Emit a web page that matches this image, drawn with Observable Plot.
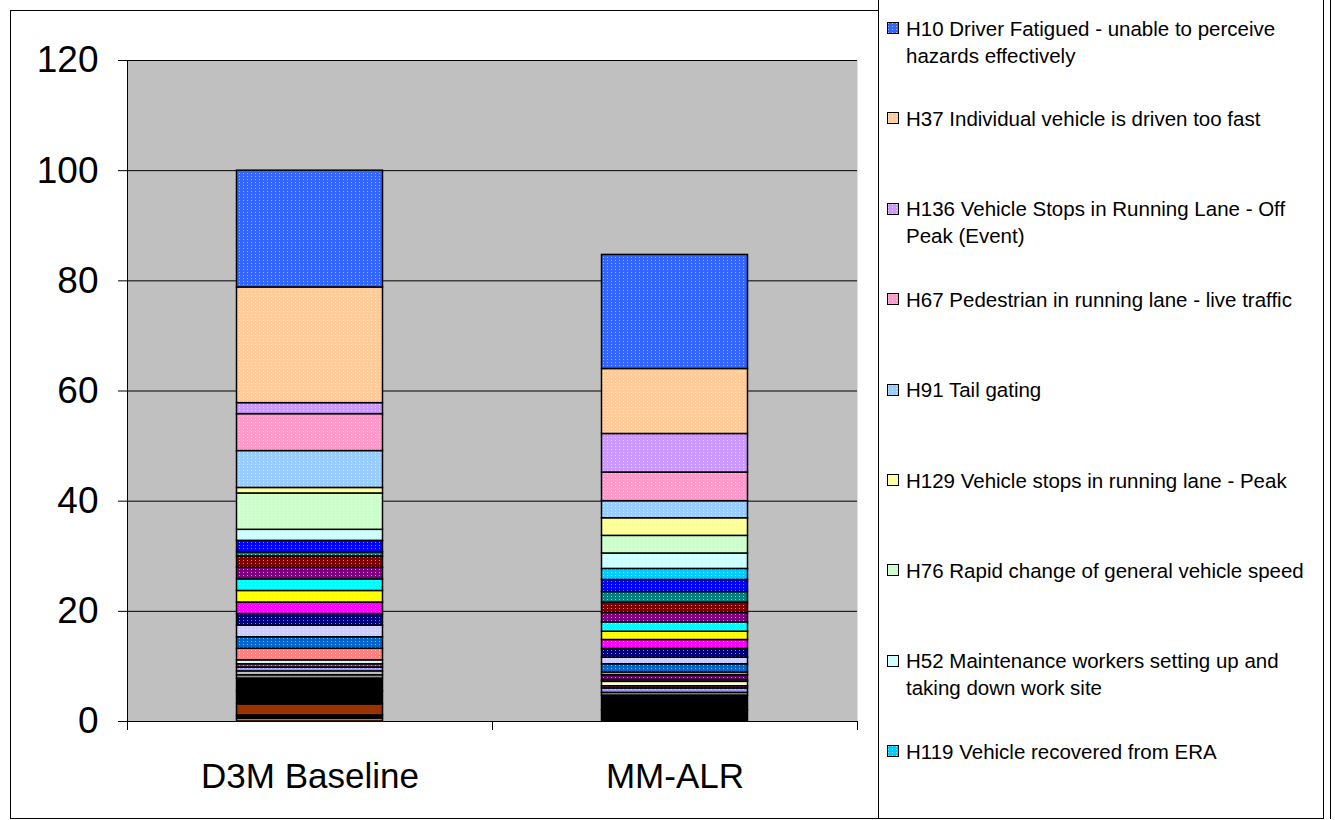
<!DOCTYPE html>
<html>
<head>
<meta charset="utf-8">
<script src="https://cdn.jsdelivr.net/npm/d3@7"></script>
<script src="https://cdn.jsdelivr.net/npm/@observablehq/plot@0.6"></script>
<style>
html,body{margin:0;padding:0;background:#fff;}
body{width:1335px;height:820px;position:relative;overflow:hidden;font-family:"Liberation Sans",Arial,sans-serif;color:#000;}
#chartFrame{position:absolute;left:10px;top:10px;width:869px;height:809px;box-sizing:border-box;border:1px solid #000;}
#plot{position:absolute;left:10px;top:10px;}
#legendBox{position:absolute;left:878px;top:-1px;width:446px;height:820px;box-sizing:border-box;border:1px solid #000;}
#outerRight{position:absolute;left:1330px;top:0;width:1px;height:819px;background:#000;}
.swatch{position:absolute;left:887px;width:12px;height:12px;}
.ltext{position:absolute;left:906px;font-size:20.5px;line-height:27px;white-space:pre;}
</style>
</head>
<body>
<div id="chartFrame"></div>
<div id="legendBox"></div>
<div id="outerRight"></div>
<div id="plot"></div>
<div id="legend"></div>
<script>
// ---- data ----
const categories = ["D3M Baseline", "MM-ALR"];
const yTicks = [0, 20, 40, 60, 80, 100, 120];

// series, bottom of stack first
const seriesNames = [
  "S1","S2","S3","S4","S5","S6","S7","S8","S9","S10","S11","S12",
  "S13","S14","S15","S16","S17","S18","S19","S20","S21","S22","S23",
  "H119","H52","H76","H129","H91","H67","H136","H37","H10"
];
const d3mBaseline = [
  0.5, 0.6, 2.0, 2.4, 2.3, 0.6, 0.7, 0.7, 0.6, 0.0, 0.7, 0.0,
  2.1, 2.1, 2.1, 2.1, 2.1, 2.1, 2.1, 2.1, 2.1, 0.7, 2.1,
  0.0, 2.0, 6.6, 1.0, 6.7, 6.7, 2.0, 21.0, 21.2
];
const mmAlr = [
  0.0, 0.0, 0.0, 2.0, 2.7, 0.5, 0.0, 0.8, 0.4, 0.8, 0.3, 0.9,
  0.5, 1.5, 1.2, 1.6, 1.6, 1.5, 1.7, 1.7, 1.9, 1.9, 2.2,
  2.0, 2.8, 3.2, 3.2, 3.1, 5.2, 7.0, 11.8, 20.7
];

// legend (top of stack first)
const legendSeries = ["H10","H37","H136","H67","H91","H129","H76","H52","H119"];
const legendLabels = [
  "H10 Driver Fatigued - unable to perceive\nhazards effectively",
  "H37 Individual vehicle is driven too fast",
  "H136 Vehicle Stops in Running Lane - Off\nPeak (Event)",
  "H67 Pedestrian in running lane - live traffic",
  "H91 Tail gating",
  "H129 Vehicle stops in running lane - Peak",
  "H76 Rapid change of general vehicle speed",
  "H52 Maintenance workers setting up and\ntaking down work site",
  "H119 Vehicle recovered from ERA"
];

// ---- styles ----
const palette = [
  "#FF6600","#000000","#993300","#000000","#000000","#969696","#C0C0C0","#9999FF","#993366","#FFFFCC","#CCFFFF","#660066",
  "#FF8080","#0066CC","#CCCCFF","#000080","#FF00FF","#FFFF00","#00FFFF","#800080","#800000","#008080","#0000FF",
  "#00CCFF","#CCFFFF","#CCFFCC","#FFFF99","#99CCFF","#FF99CC","#CC99FF","#FFCC99","#3366FF"
];
const solidCount = 5; // bottom dark segments drawn solid

// pattern defs (Excel-like dotted fills)
const defs = d3.select("body").append("svg")
  .attr("width", 0).attr("height", 0)
  .style("position", "absolute").style("left", "0").style("top", "0")
  .append("defs");
palette.forEach((col, i) => {
  const p = defs.append("pattern").attr("id", `pat${i}`)
    .attr("patternUnits", "userSpaceOnUse").attr("width", 4).attr("height", 3);
  p.append("rect").attr("width", 4).attr("height", 3).attr("fill", col);
  if (i >= solidCount) {
    p.append("rect").attr("x", 1).attr("y", 1).attr("width", 1).attr("height", 1)
      .attr("fill", "#fff").attr("fill-opacity", 0.55);
  }
});

// ---- table ----
const values = [d3mBaseline, mmAlr];
const rows = [];
seriesNames.forEach((s, i) => {
  categories.forEach((c, j) => {
    const v = values[j][i];
    if (v > 0) rows.push({category: c, series: s, value: v});
  });
});

const font = '"Liberation Sans", Arial, sans-serif';
const chart = Plot.plot({
  width: 868,
  height: 808,
  marginLeft: 117,
  marginRight: 21,
  marginTop: 50,
  marginBottom: 97,
  style: {fontFamily: font, background: "transparent", color: "#000", overflow: "visible"},
  x: {domain: categories, padding: 0, label: null},
  y: {domain: [0, 120], label: null},
  color: {domain: seriesNames, range: seriesNames.map((s, i) => `url(#pat${i})`)},
  marks: [
    Plot.frame({fill: "#C0C0C0", stroke: null}),
    Plot.gridY(yTicks, {stroke: "#000", strokeOpacity: 1, strokeWidth: 1}),
    Plot.barY(rows, {
      x: "category", y: "value", fill: "series",
      stroke: "#000", strokeWidth: 1.5,
      insetLeft: 109.5, insetRight: 109.5
    }),
    Plot.frame({anchor: "left", stroke: "#000"}),
    Plot.frame({anchor: "bottom", stroke: "#000"}),
    Plot.axisY(yTicks, {tickSize: 9, tickPadding: 20, fontSize: 37, label: null, stroke: "#000"}),
    Plot.axisX({tickSize: 0, tickPadding: 42, fontSize: 35, label: null})
  ]
});
document.getElementById("plot").appendChild(chart);

// category boundary ticks from the x scale
const xs = chart.scale("x");
const ys = chart.scale("y");
const y0 = ys.apply(0);
const bounds = [];
categories.forEach((c, i) => {
  bounds.push(xs.apply(c));
  if (i === categories.length - 1) bounds.push(xs.apply(c) + xs.bandwidth);
});
const svgSel = d3.select(chart);
bounds.forEach(bx => {
  svgSel.append("line")
    .attr("x1", Math.round(bx) + 0.5).attr("x2", Math.round(bx) + 0.5)
    .attr("y1", y0).attr("y2", y0 + 9)
    .attr("stroke", "#000");
});

// ---- legend ----
const legend = d3.select("#legend");
const firstCenter = 28, step = 90.4;
legendSeries.forEach((s, k) => {
  const idx = seriesNames.indexOf(s);
  const cy = firstCenter + k * step;
  const sw = legend.append("svg").attr("class", "swatch")
    .style("top", (cy - 6) + "px")
    .attr("width", 12).attr("height", 12);
  sw.append("rect").attr("x", 0.5).attr("y", 0.5).attr("width", 11).attr("height", 11)
    .attr("fill", `url(#pat${idx})`).attr("stroke", "#000").attr("stroke-width", 1);
  legend.append("div").attr("class", "ltext")
    .style("top", (cy - 13.5) + "px")
    .text(legendLabels[k]);
});
</script>
</body>
</html>
